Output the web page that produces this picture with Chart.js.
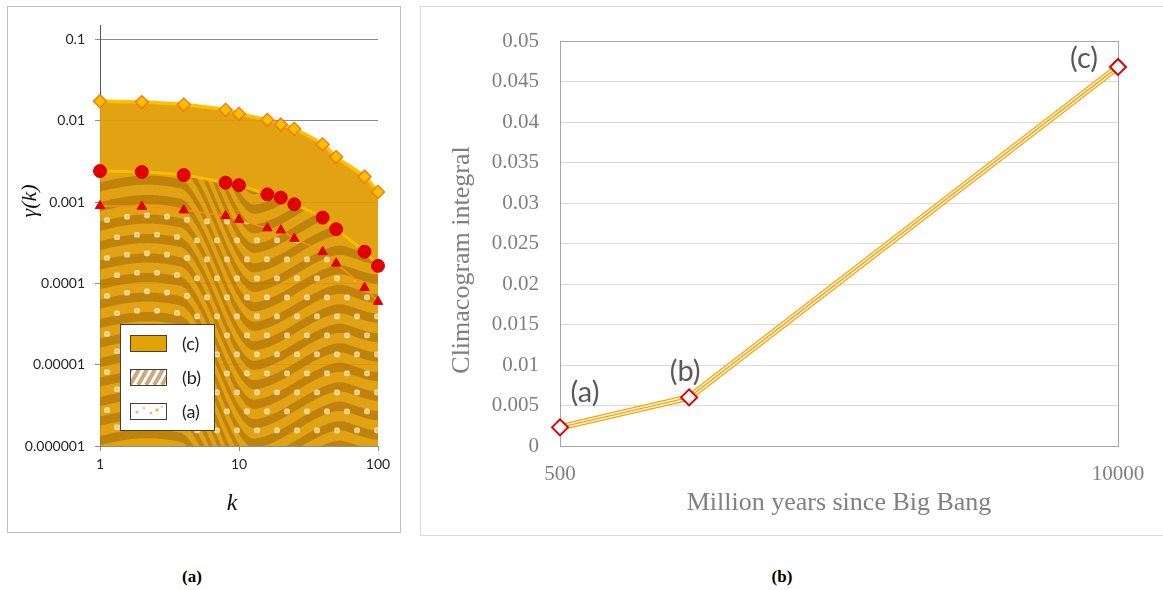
<!DOCTYPE html>
<html>
<head>
<meta charset="utf-8">
<script src="https://cdn.jsdelivr.net/npm/chart.js@4.4.1/dist/chart.umd.min.js"></script>
<style>
  html, body { margin: 0; padding: 0; background: #fff; width: 1163px; height: 590px; overflow: hidden; }
  .frame { position: absolute; box-sizing: border-box; }
  #frameA { left: 7px; top: 6px; width: 394px; height: 527px; border: 1px solid #BFBFBF; }
  #frameB { left: 420px; top: 6px; width: 760px; height: 530px; border: 1px solid #D9D9D9; }
  canvas { position: absolute; }
  #chartA { left: 8px; top: 7px; }
  #chartB { left: 421px; top: 7px; }
  .caption { position: absolute; top: 567px; width: 100px; text-align: center;
             font: bold 17px "Liberation Serif", serif; color: #000; line-height: 20px; }
</style>
</head>
<body>
<div class="frame" id="frameA"></div>
<div class="frame" id="frameB"></div>
<canvas id="chartA" width="391" height="524"></canvas>
<canvas id="chartB" width="742" height="527"></canvas>
<div class="caption" style="left:142px">(a)</div>
<div class="caption" style="left:732px">(b)</div>

<script>
// ---------- panel (a): climacogram gamma(k) of three fields ----------
const kValues = [1, 2, 4, 8, 10, 16, 20, 25, 40, 50, 80, 100];
const gammaC = [0.0175, 0.0171, 0.0159, 0.0137, 0.0122, 0.0103, 0.00905, 0.0080, 0.00515, 0.0036, 0.00206, 0.00134];
const gammaB = [0.00242, 0.00236, 0.00216, 0.00174, 0.00162, 0.00125, 0.00114, 0.000944, 0.000647, 0.000466, 0.000246, 0.000165];
const gammaA = [0.000901, 0.000883, 0.000798, 0.000679, 0.000612, 0.00048, 0.000453, 0.000357, 0.000245, 0.000177, 0.0000887, 0.0000598];
const seriesNames = ['(c)', '(b)', '(a)'];
const kTicks = [1, 10, 100];
const kTickLabels = ['1', '10', '100'];
const gammaTicks = [0.000001, 0.00001, 0.0001, 0.001, 0.01, 0.1];
const gammaTickLabels = ['0.000001', '0.00001', '0.0001', '0.001', '0.01', '0.1'];

// ---------- panel (b): climacogram integral through cosmic time ----------
const epochs = [500, 1000, 10000];
const climacogramIntegral = [0.0023, 0.006, 0.0468];
const epochNames = ['(a)', '(b)', '(c)'];
const timeTicks = [500, 10000];
const timeTickLabels = ['500', '10000'];
const integralTicks = [0, 0.005, 0.01, 0.015, 0.02, 0.025, 0.03, 0.035, 0.04, 0.045, 0.05];
const integralTickLabels = ['0', '0.005', '0.01', '0.015', '0.02', '0.025', '0.03', '0.035', '0.04', '0.045', '0.05'];

// ---------- textures for the filled areas ----------
function smooth(t) { t = Math.min(1, Math.max(0, t)); return t * t * (3 - 2 * t); }
// vertical displacement (px) of the wavy grain at horizontal offset u inside the plot
function grainShift(u) {
  return -7 * Math.sin(Math.PI * Math.min(1, Math.max(0, u / 95)))
       + 120 * smooth((u - 80) / 75)
       - 38 * smooth((u - 150) / 95)
       + 10 * smooth((u - 235) / 43);
}
const texCache = { key: null };
function textures(chart) {
  const a = chart.chartArea;
  const key = [a.left, a.top, a.right, a.bottom].join(',');
  if (texCache.key === key) return texCache;
  const W = chart.width, H = chart.height;

  const c1 = document.createElement('canvas'); c1.width = W; c1.height = H;
  const g1 = c1.getContext('2d');
  const img = g1.createImageData(W, H);
  const P = 19.5, duty = 0.47;
  const x0 = Math.floor(a.left), x1 = Math.ceil(a.right), y0 = Math.floor(a.top), y1 = Math.ceil(a.bottom);
  for (let y = y0; y < y1; y++) {
    for (let x = x0; x < x1; x++) {
      let cov = 0;
      for (let sy = 0; sy < 3; sy++) for (let sx = 0; sx < 3; sx++) {
        const px = x + (sx + 0.5) / 3, py = y + (sy + 0.5) / 3;
        const ph = (py - grainShift(px - a.left)) / P;
        if (ph - Math.floor(ph) < duty) cov++;
      }
      if (cov) {
        const i = (y * W + x) * 4;
        img.data[i] = 160; img.data[i + 1] = 100; img.data[i + 2] = 0;
        img.data[i + 3] = Math.round(255 * 0.52 * cov / 9);
      }
    }
  }
  g1.putImageData(img, 0, 0);

  const c2 = document.createElement('canvas'); c2.width = W; c2.height = H;
  const g2 = c2.getContext('2d');
  for (let r = 0, y = a.top + 6; y < a.bottom; r++, y += 19) {
    for (let x = a.left + 7 + (r % 2) * 10; x < a.right; x += 20) {
      const yy = y - 6 * Math.sin(Math.PI * Math.min(1, Math.max(0, (x - a.left) / 95)));
      g2.fillStyle = 'rgba(250,234,190,0.8)';
      g2.beginPath(); g2.roundRect(x - 2.8, yy - 2.8, 5.6, 5.6, 1.6); g2.fill();
      g2.fillStyle = 'rgba(228,190,100,0.75)';
      g2.beginPath(); g2.arc(x, yy, 1.2, 0, Math.PI * 2); g2.fill();
    }
  }
  texCache.key = key;
  texCache.bands = chart.ctx.createPattern(c1, 'no-repeat');
  texCache.dots = chart.ctx.createPattern(c2, 'no-repeat');
  return texCache;
}

const fillC = 'rgba(222,155,0,0.92)';

// legend box and axis titles of panel (a)
const panelADecor = {
  id: 'panelADecor',
  afterDraw(chart) {
    const ctx = chart.ctx;
    ctx.save();
    // legend
    const bx = 112, by = 317, bw = 94, bh = 106;
    ctx.fillStyle = '#fff';
    ctx.fillRect(bx, by, bw, bh);
    ctx.strokeStyle = '#404040'; ctx.lineWidth = 1;
    ctx.strokeRect(bx + 0.5, by + 0.5, bw, bh);
    const rows = [328, 362, 396];
    chart.data.datasets.forEach((ds, i) => {
      const sx = 122, sy = rows[i], sw = 36, sh = 16;
      ctx.save();
      ctx.beginPath(); ctx.rect(sx, sy, sw, sh); ctx.clip();
      if (i === 0) {
        ctx.fillStyle = '#E2A200'; ctx.fillRect(sx, sy, sw, sh);
      } else if (i === 1) {
        ctx.fillStyle = '#fff'; ctx.fillRect(sx, sy, sw, sh);
        ctx.strokeStyle = '#C9A97E'; ctx.lineWidth = 4;
        for (let k = -2; k < 7; k++) {
          ctx.beginPath();
          ctx.moveTo(sx + k * 8, sy + sh);
          ctx.quadraticCurveTo(sx + k * 8 + 5, sy + 8, sx + k * 8 + 9, sy);
          ctx.stroke();
        }
      } else {
        ctx.fillStyle = '#fff'; ctx.fillRect(sx, sy, sw, sh);
        ctx.fillStyle = '#E9BC55';
        [[7, 9, 1.6], [14, 5, 1.0], [21, 10, 1.3], [27, 7, 1.8], [32, 4, 0.9]].forEach(d => {
          ctx.beginPath(); ctx.arc(sx + d[0], sy + d[1], d[2], 0, Math.PI * 2); ctx.fill();
        });
      }
      ctx.restore();
      ctx.strokeStyle = '#404040'; ctx.lineWidth = 1;
      ctx.strokeRect(sx + 0.5, sy + 0.5, sw, sh);
      ctx.fillStyle = '#1c1c2a';
      ctx.font = '18px Lato';
      ctx.textAlign = 'left'; ctx.textBaseline = 'middle';
      ctx.fillText(ds.label, 174, sy + sh / 2 + 1);
    });
    // axis titles
    ctx.fillStyle = '#111';
    ctx.font = 'italic 24px "Liberation Serif"';
    ctx.textAlign = 'center'; ctx.textBaseline = 'middle';
    ctx.fillText('k', 224, 497);
    ctx.translate(22, 194);
    ctx.rotate(-Math.PI / 2);
    ctx.font = 'italic 22px "Liberation Serif"';
    ctx.fillText('\u03B3(k)', 0, 0);
    ctx.restore();
  }
};

new Chart(document.getElementById('chartA'), {
  type: 'line',
  data: {
    datasets: [
      {
        label: seriesNames[0], order: 3, clip: false,
        data: kValues.map((k, i) => ({ x: k, y: gammaC[i] })),
        borderColor: '#FFC000', borderWidth: 3.5, tension: 0.4,
        fill: 'start', backgroundColor: fillC,
        pointStyle: 'rectRot', pointRadius: 6.5,
        pointBackgroundColor: '#FFC000', pointBorderColor: '#FF6A00', pointBorderWidth: 1.2
      },
      {
        label: seriesNames[1], order: 2, clip: false,
        data: kValues.map((k, i) => ({ x: k, y: gammaB[i] })),
        borderColor: '#F8BC00', borderWidth: 3, tension: 0.4,
        fill: 'start',
        backgroundColor: (ctx) => ctx.chart.chartArea ? textures(ctx.chart).bands : 'rgba(0,0,0,0)',
        pointStyle: 'circle', pointRadius: 6.5,
        pointBackgroundColor: '#E00000', pointBorderColor: '#E00000', pointBorderWidth: 1
      },
      {
        label: seriesNames[2], order: 1, clip: false,
        data: kValues.map((k, i) => ({ x: k, y: gammaA[i] })),
        borderColor: '#FF8C1A', borderWidth: 1.5, tension: 0.4,
        fill: 'start',
        backgroundColor: (ctx) => ctx.chart.chartArea ? textures(ctx.chart).dots : 'rgba(0,0,0,0)',
        pointStyle: 'triangle', pointRadius: 5.5,
        pointBackgroundColor: '#E00000', pointBorderColor: '#E00000', pointBorderWidth: 1
      }
    ]
  },
  options: {
    responsive: false, animation: false, events: [],
    layout: { padding: { left: 0, right: 21, top: 17, bottom: 0 } },
    plugins: { legend: { display: false }, tooltip: { enabled: false } },
    scales: {
      x: {
        type: 'logarithmic', min: 1, max: 100,
        afterBuildTicks: (s) => { s.ticks = kTicks.map(v => ({ value: v })); },
        afterFit: (s) => { s.height = 85; },
        ticks: { callback: (v, i) => kTickLabels[i], font: { family: 'Lato', size: 14 }, color: '#262626',
                 padding: 5, maxRotation: 0, autoSkip: false },
        grid: { drawOnChartArea: false, drawTicks: true, tickLength: 5, color: '#8C8C8C' },
        border: { color: '#8C8C8C' }
      },
      y: {
        type: 'logarithmic', min: 0.000001, max: 0.15,
        afterBuildTicks: (s) => { s.ticks = gammaTicks.map(v => ({ value: v })); },
        afterFit: (s) => { s.width = 92; },
        ticks: { callback: (v, i) => gammaTickLabels[i], font: { family: 'Lato', size: 14 }, color: '#262626',
                 padding: 10, autoSkip: false },
        grid: { drawTicks: true, tickLength: 5, color: '#8C8C8C' },
        border: { color: '#595959' }
      }
    }
  },
  plugins: [panelADecor]
});

// ---------- panel (b) ----------
const labelOffsets = [[25, -35], [-4, -26], [-34, -8]];
const panelBDecor = {
  id: 'panelBDecor',
  beforeDatasetsDraw(chart) {
    const a = chart.chartArea, ctx = chart.ctx;
    ctx.save();
    ctx.strokeStyle = '#A6A6A6'; ctx.lineWidth = 1;
    ctx.strokeRect(Math.round(a.left) + 0.5, Math.round(a.top) + 0.5,
                   Math.round(a.right - a.left), Math.round(a.bottom - a.top));
    ctx.restore();
  },
  afterDraw(chart) {
    const ctx = chart.ctx;
    ctx.save();
    const meta = chart.getDatasetMeta(2);
    ctx.fillStyle = '#595959';
    ctx.font = '29px Lato';
    ctx.textAlign = 'center'; ctx.textBaseline = 'middle';
    meta.data.forEach((pt, i) => {
      ctx.fillText(epochNames[i], pt.x + labelOffsets[i][0], pt.y + labelOffsets[i][1]);
    });
    ctx.fillStyle = '#808080';
    ctx.font = '26px "Liberation Serif"';
    ctx.fillText('Million years since Big Bang', 418, 496);
    ctx.translate(41, 253);
    ctx.rotate(-Math.PI / 2);
    ctx.fillText('Climacogram integral', 0, 0);
    ctx.restore();
  }
};

const seriesB = epochs.map((t, i) => ({ x: t, y: climacogramIntegral[i] }));
new Chart(document.getElementById('chartB'), {
  type: 'line',
  data: {
    datasets: [
      { data: seriesB, order: 3, clip: false, borderColor: '#FFA000', borderWidth: 6.5, pointRadius: 0, tension: 0 },
      { data: seriesB, order: 2, clip: false, borderColor: '#FFFFFF', borderWidth: 4, pointRadius: 0, tension: 0 },
      { data: seriesB, order: 1, clip: false, borderColor: '#FFA000', borderWidth: 1.4, tension: 0,
        pointStyle: 'rectRot', pointRadius: 8, pointBackgroundColor: '#FFFFFF',
        pointBorderColor: '#E00000', pointBorderWidth: 2 }
    ]
  },
  options: {
    responsive: false, animation: false, events: [],
    layout: { padding: { left: 0, right: 45, top: 34, bottom: 0 } },
    plugins: { legend: { display: false }, tooltip: { enabled: false } },
    scales: {
      x: {
        type: 'logarithmic', min: 500, max: 10000,
        afterBuildTicks: (s) => { s.ticks = timeTicks.map(v => ({ value: v })); },
        afterFit: (s) => { s.height = 88; },
        ticks: { callback: (v, i) => timeTickLabels[i], font: { family: 'Liberation Serif', size: 21 },
                 color: '#7F7F7F', padding: 8, maxRotation: 0, autoSkip: false },
        grid: { display: false },
        border: { display: false }
      },
      y: {
        type: 'linear', min: 0, max: 0.05,
        afterBuildTicks: (s) => { s.ticks = integralTicks.map(v => ({ value: v })); },
        afterFit: (s) => { s.width = 139; },
        ticks: { callback: (v, i) => integralTickLabels[i], font: { family: 'Liberation Serif', size: 21 },
                 color: '#7F7F7F', padding: 21, autoSkip: false },
        grid: { drawTicks: false, color: '#D9D9D9' },
        border: { display: false }
      }
    }
  },
  plugins: [panelBDecor]
});
</script>
</body>
</html>
